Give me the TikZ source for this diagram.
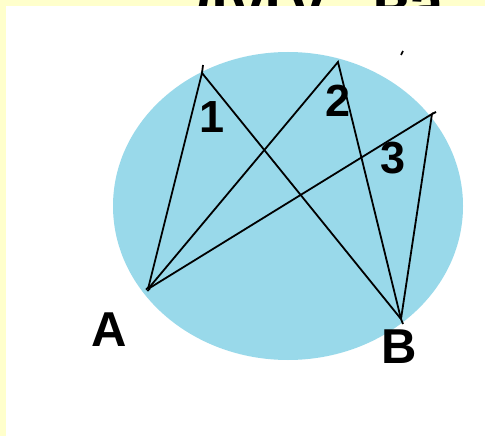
\documentclass[tikz,border=0pt]{standalone}
\usepackage{fontspec}
\setmainfont{Liberation Sans}
\definecolor{bgyellow}{HTML}{FFFFCC}
\definecolor{discblue}{HTML}{99D9EA}
\begin{document}
\begin{tikzpicture}[x=1pt,y=-1pt,
  seg/.style={draw=black,line width=1.8pt},
  lbl/.style={font=\fontsize{49}{49}\selectfont\bfseries,inner sep=0pt},
  num/.style={font=\fontsize{45}{45}\selectfont\bfseries,inner sep=0pt}]
\useasboundingbox (0,0) rectangle (485,436);
\fill[bgyellow] (0,0) rectangle (485,436);
\node[anchor=base west,inner sep=0pt,font=\fontsize{62}{62}\selectfont\bfseries] (title) at (190,26) {дугу,\ \ ва};
\fill[white] (6,6) rectangle (485,436);
\fill[discblue] (288,206) ellipse [x radius=175, y radius=154];
\coordinate (A) at (148,289);
\coordinate (P1) at (202,73);
\coordinate (P2) at (338,62);
\coordinate (P3) at (432,114);
\coordinate (B) at (401,319);
\draw[seg] (A) -- (P1) -- (B);
\draw[seg] (A) -- (P2) -- (B);
\draw[seg] (A) -- (P3) -- (B);
\draw[seg] (P1) -- ++(1,-8);
\draw[seg] (P3) -- ++(4,-2);
\draw[seg] (B) -- ++(2,5);
\draw[black,line width=1.2pt] (A) circle (1.8);
\draw[black,line width=1.6pt] (401,55) -- (403,51);
\node[lbl] (la) at (109,330) {A};
\node[lbl] (lb) at (399,347) {B};
\node[num] (n1) at (212,117) {1};
\node[num] (n2) at (338,101) {2};
\node[num] (n3) at (393,158) {3};
\end{tikzpicture}
\end{document}
